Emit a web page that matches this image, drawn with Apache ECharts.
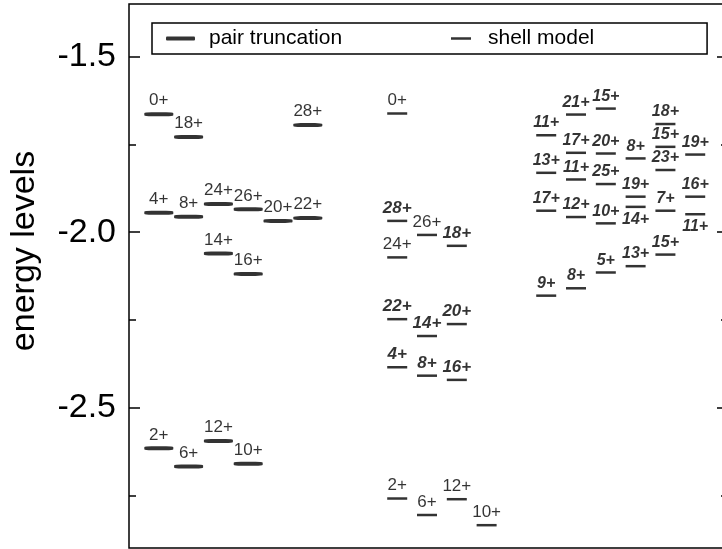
<!DOCTYPE html>
<html><head><meta charset="utf-8">
<script src="https://cdn.jsdelivr.net/npm/echarts@6/dist/echarts.min.js"></script>
<style>html,body{margin:0;padding:0;background:#fff}#c{width:722px;height:549px}</style>
</head><body><div id="c"></div>
<script>
// ---- data ----
// pair truncation (left block): slot index, energy, spin label
const ptSlot   = [0, 0, 0, 1, 1, 1, 2, 2, 2, 3, 3, 3, 4, 5, 5];
const ptEnergy = [-1.664, -1.945, -2.616, -1.729, -1.956, -2.668, -1.920, -2.061, -2.595, -1.935, -2.119, -2.660, -1.968, -1.695, -1.960];
const ptLabel  = ['0+', '4+', '2+', '18+', '8+', '6+', '24+', '14+', '12+', '26+', '16+', '10+', '20+', '28+', '22+'];

// shell model, middle block, plain labels
const smASlot   = [8, 8, 8, 9, 9, 10, 11];
const smAEnergy = [-1.662, -2.072, -2.759, -2.008, -2.806, -2.761, -2.835];
const smALabel  = ['0+', '24+', '2+', '26+', '6+', '12+', '10+'];

// shell model, middle block, bold italic labels
const smBSlot   = [8, 8, 8, 9, 9, 10, 10, 10];
const smBEnergy = [-1.968, -2.248, -2.385, -2.296, -2.409, -2.039, -2.262, -2.421];
const smBLabel  = ['28+', '22+', '4+', '14+', '8+', '18+', '20+', '16+'];

// shell model, right block
const smCSlot   = [13, 13, 13, 13, 14, 14, 14, 14, 14, 15, 15, 15, 15, 15, 16, 16, 16, 16, 17, 17, 17, 17, 17, 18, 18, 18];
const smCEnergy = [-1.724, -1.831, -1.939, -2.181, -1.665, -1.774, -1.850, -1.957, -2.160, -1.648, -1.776, -1.863, -1.975, -2.115, -1.790, -1.899, -1.928, -2.097, -1.692, -1.757, -1.823, -1.939, -2.064, -1.779, -1.899, -1.949];
const smCLabel  = ['11+', '13+', '17+', '9+', '21+', '17+', '11+', '12+', '8+', '15+', '20+', '25+', '10+', '5+', '8+', '19+', '14+', '13+', '18+', '15+', '23+', '7+', '15+', '19+', '16+', '11+'];
// indices (in the right block) whose label sits under the level
const smCBelow = [16, 25];

const yMajor = [-2.5, -2.0, -1.5];
const yMinor = [-2.75, -2.25, -1.75];

// ---- chart ----
const FONT = "'Liberation Sans', Arial, Helvetica, sans-serif";
const pts = (s, e, l) => s.map((v, i) => ({ value: [v, e[i]], name: l[i] }));

const normalLabel = { show: true, position: 'top', distance: 3, formatter: '{b}', color: '#000', fontFamily: FONT, fontSize: 17 };
const boldLabel = { show: true, position: 'top', distance: 3, formatter: '{b}', color: '#000', fontFamily: FONT, fontSize: 17, fontWeight: 'bold', fontStyle: 'italic' };

const rightData = pts(smCSlot, smCEnergy, smCLabel).map((d, i) =>
  smCBelow.includes(i) ? Object.assign(d, { label: { position: 'bottom', distance: 3 } }) : d);

const thin = { symbol: 'rect', symbolSize: [20, 2.5], itemStyle: { color: '#000' } };
const Y = { min: -2.9, max: -1.35 };
const tickAxis = (grid, pos, len, vals) => ({
  type: 'value', gridIndex: grid, position: pos, min: Y.min, max: Y.max,
  axisLine: { show: false, onZero: false }, splitLine: { show: false }, axisLabel: { show: false },
  axisTick: { show: true, inside: true, length: len, customValues: vals, lineStyle: { color: '#000', width: 1.5 } }
});

const chart = echarts.init(document.getElementById('c'), null, { renderer: 'canvas' });
const leftMain = tickAxis(0, 'left', 11, yMajor);
leftMain.axisLabel = { show: true, customValues: yMajor, formatter: v => v.toFixed(1), fontSize: 34, color: '#000', margin: 13, fontFamily: FONT };
leftMain.name = 'energy levels';
leftMain.nameLocation = 'middle';
leftMain.nameRotate = 90;
leftMain.nameGap = 87;
leftMain.nameTextStyle = { fontSize: 34, color: '#000', fontFamily: FONT, padding: [0, 0, 0, 50] };

const gridBox = { left: 129, top: 4, right: -6, bottom: 1, outerBoundsMode: 'none', containLabel: false };
chart.setOption({
  animation: false,
  backgroundColor: '#fff',
  textStyle: { fontFamily: FONT },
  grid: [
    Object.assign({ show: true, borderColor: '#000', borderWidth: 1.5, backgroundColor: 'transparent' }, gridBox),
    Object.assign({ show: false }, gridBox)
  ],
  legend: [
    { data: ['pair truncation'], left: 152, top: 23, padding: [5, 365, 5, 14], itemWidth: 29, itemHeight: 4, borderColor: '#000', borderWidth: 1.5, borderRadius: 0,
      textStyle: { fontSize: 21, color: '#000', fontFamily: FONT, padding: [0, 0, 0, 9] }, selectedMode: false },
    { data: ['shell model'], left: 451, top: 23, padding: [5, 0, 5, 0], itemWidth: 20, itemHeight: 2.5,
      textStyle: { fontSize: 21, color: '#000', fontFamily: FONT, padding: [0, 0, 0, 12] }, selectedMode: false }
  ],
  xAxis: [
    { type: 'value', gridIndex: 0, min: -1, max: 19.1, show: false },
    { type: 'value', gridIndex: 1, min: -1, max: 19.1, show: false }
  ],
  yAxis: [
    leftMain,
    tickAxis(0, 'right', 11, yMajor),
    tickAxis(1, 'left', 7, yMinor),
    tickAxis(1, 'right', 7, yMinor)
  ],
  series: [
    { name: 'pair truncation', type: 'scatter', symbol: 'roundRect', symbolSize: [29, 4], itemStyle: { color: '#000' },
      label: normalLabel, data: pts(ptSlot, ptEnergy, ptLabel) },
    Object.assign({ name: 'shell model', type: 'scatter', label: normalLabel, data: pts(smASlot, smAEnergy, smALabel) }, thin),
    Object.assign({ name: 'shell model', type: 'scatter', label: boldLabel, data: pts(smBSlot, smBEnergy, smBLabel) }, thin),
    Object.assign({ name: 'shell model', type: 'scatter', label: Object.assign({}, boldLabel, { fontSize: 16 }), data: rightData }, thin)
  ]
});
</script></body></html>
